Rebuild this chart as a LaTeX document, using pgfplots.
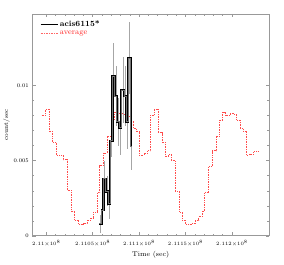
\documentclass[border=0pt]{standalone}
\usepackage{pgfplots}
\pgfplotsset{compat=1.18}
\begin{document}
\begin{tikzpicture}
\begin{axis}[
  scale only axis, width=238bp, height=223bp,
  xmin=-1.5, xmax=24, ymin=0, ymax=0.01477,
  scaled y ticks=false, scaled x ticks=false,
  xtick={0,5,10,15,20},
  xticklabels={$2.11{\times}10^8$,$2.1105{\times}10^8$,$2.111{\times}10^8$,$2.1115{\times}10^8$,$2.112{\times}10^8$},
  minor x tick num=4,
  ytick={0,0.005,0.01}, yticklabels={0,0.005,0.01},
  minor y tick num=4,
  tick align=inside,
  major tick length=3.5bp, minor tick length=2bp,
  axis line style={gray!80, line width=0.6pt},
  tick style={gray!80, line width=0.4pt},
  x tick label style={font=\fontsize{4.5}{5}\selectfont, yshift=-1bp},
  y tick label style={font=\fontsize{5.5}{6}\selectfont},
  xlabel={Time (sec)}, ylabel={count/sec},
  xlabel style={font=\fontsize{7}{8}\selectfont, yshift=2bp},
  ylabel style={font=\fontsize{6.5}{7}\selectfont, yshift=-3bp},
  legend style={at={(0.02,0.99)}, anchor=north west, draw=none, fill=none,
    font=\fontsize{8}{9}\selectfont, row sep=-1pt},
  legend cell align=left,
]
\addlegendimage{black, line width=0.8pt}
\addlegendentry{\textbf{acis6115*}}
\addlegendimage{red!60, densely dotted, line width=0.7pt}
\addlegendentry{\textcolor{red!85}{average}}

\addplot[const plot, red!70, densely dotted, line width=0.7pt, forget plot] coordinates {
(-0.50,0.00802) (-0.14,0.00841) (0.36,0.00692) (0.71,0.00621) (1.11,0.00537)
(1.82,0.00507) (2.25,0.00302) (2.68,0.00163) (3.07,0.00104) (3.50,0.00075)
(4.03,0.00081) (4.39,0.00104) (4.75,0.00119) (5.03,0.00159) (5.46,0.00286)
(5.75,0.00467) (6.10,0.00551) (6.53,0.00665) (6.96,0.00771) (7.32,0.00824)
(7.74,0.00815) (8.21,0.00808) (8.67,0.00797) (9.10,0.00764) (9.39,0.00714)
(9.74,0.00692) (10.03,0.00537) (10.53,0.00551) (10.89,0.00566) (11.24,0.00802)
(11.60,0.00841) (12.03,0.00687) (12.46,0.00621) (12.81,0.00529) (13.17,0.00544)
(13.45,0.00500) (13.88,0.00295) (14.38,0.00159) (14.67,0.00104) (15.02,0.00075)
(15.70,0.00081) (16.06,0.00104) (16.42,0.00126) (16.77,0.00163) (17.06,0.00286)
(17.49,0.00460) (17.84,0.00566) (18.27,0.00665) (18.63,0.00769) (18.99,0.00824)
(19.34,0.00802) (19.81,0.00815) (20.16,0.00808) (20.52,0.00771) (20.88,0.00714)
(21.23,0.00698) (21.59,0.00537) (21.84,0.00544) (22.31,0.00559) (22.84,0.00559)
};

\addplot[draw=none, mark=none, forget plot,
  error bars/.cd, y dir=both, y explicit,
  error bar style={gray!70, line width=0.5pt}, error mark=none]
  coordinates {
(5.83,0.00081) +- (0,0.0006)
(6.06,0.00170) +- (0,0.0008)
(6.29,0.00379) +- (0,0.0012)
(6.55,0.00295) +- (0,0.0010)
(6.78,0.00214) +- (0,0.0010)
(7.01,0.00632) +- (0,0.0011)
(7.26,0.01062) +- (0,0.0022)
(7.50,0.00930) +- (0,0.0020)
(7.72,0.00758) +- (0,0.0016)
(7.97,0.00720) +- (0,0.0018)
(8.25,0.00969) +- (0,0.0022)
(8.50,0.00930) +- (0,0.0020)
(8.71,0.00758) +- (0,0.0018)
(8.96,0.01183) +- (0,0.0024)
(9.19,0.00595) +- (0,0.0016)
};

\addplot[const plot, draw=black, line width=0.5pt, double=gray!90!black, double distance=1.1pt, forget plot] coordinates {
(5.71,0.00081) (5.96,0.00170) (6.17,0.00379) (6.42,0.00295) (6.67,0.00214)
(6.89,0.00632) (7.14,0.01062) (7.39,0.00930) (7.60,0.00758) (7.85,0.00720)
(8.10,0.00969) (8.39,0.00930) (8.60,0.00758) (8.82,0.01183) (9.10,0.00595)
(9.28,0.00595)
};
\end{axis}
\path (current axis.south west) ++(-31bp,-29bp) rectangle ++(284bp,266bp);
\end{tikzpicture}
\end{document}
